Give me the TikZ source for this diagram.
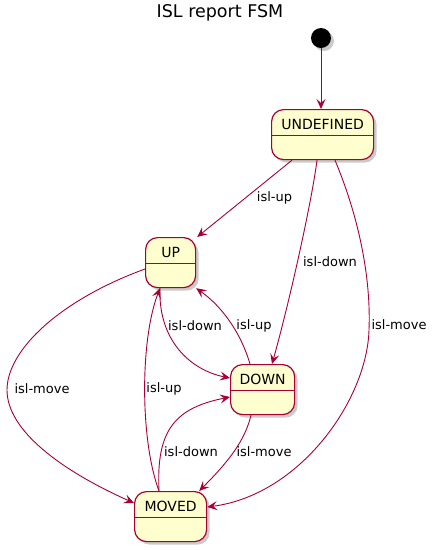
\documentclass[tikz,border=0pt]{standalone}
\usepackage{fontspec}
\setmainfont{DejaVu Sans}
\usetikzlibrary{arrows.meta,shadows,positioning}
\definecolor{umlborder}{RGB}{168,0,54}
\definecolor{umlfill}{RGB}{254,254,206}
\tikzset{
  statebox/.style={draw=umlborder, fill=umlfill, line width=1.2pt, rounded corners=12pt,
    minimum height=50pt, inner ysep=0pt, inner xsep=4pt, text height=19.5pt, text depth=30.5pt,
    font=\fontsize{14}{16}\selectfont, anchor=north west,
    drop shadow={shadow xshift=3pt, shadow yshift=-3pt, fill=black!45, opacity=0.45}},
  edge/.style={draw=umlborder, line width=0.9pt, -{Stealth[length=10pt,width=9pt,inset=4pt]}},
  elabel/.style={font=\fontsize{13}{15}\selectfont, inner sep=0pt},
}
\newcommand{\sep}[1]{\draw[umlborder, line width=1.2pt] ([yshift=-26.5pt]#1.north west) -- ([yshift=-26.5pt]#1.north east);}
\begin{document}
\begin{tikzpicture}[x=1pt, y=-1pt]
\useasboundingbox (0,0) rectangle (436,550);
\node[font=\fontsize{17.5}{20}\selectfont, anchor=base, inner sep=0pt] (title) at (220,17.5) {ISL report FSM};
\node[circle, fill=black, minimum size=20pt, inner sep=0pt,
  drop shadow={shadow xshift=3pt, shadow yshift=-3pt, fill=black!45, opacity=0.45}] (start) at (321,38) {};
\node[statebox, minimum width=102pt] (UNDEFINED) at (271,109) {UNDEFINED};
\node[statebox, minimum width=50pt] (UP) at (145,237) {UP};
\node[statebox, minimum width=64pt] (DOWN) at (230,364) {DOWN};
\node[statebox, minimum width=72pt] (MOVED) at (134,491) {MOVED};
\sep{UNDEFINED}
\sep{UP}
\sep{DOWN}
\sep{MOVED}
% edges
\draw[edge] (start.south) -- (start.south |- UNDEFINED.north);
\draw[edge] ([xshift=21pt]UNDEFINED.south west) -- ([xshift=1pt]UP.north east);
\draw[edge] ([xshift=46pt]UNDEFINED.south west) .. controls (312,200) and (290,300) .. ([xshift=42pt]DOWN.north west);
\draw[edge] ([xshift=64pt]UNDEFINED.south west) .. controls (360,220) and (371,280) .. (369,330)
   .. controls (367,400) and (300,495) .. ([yshift=-16pt]MOVED.north east);
\draw[edge] ([yshift=-32pt]UP.north west) .. controls (60,300) and (7,350) .. (7,390)
   .. controls (7,430) and (60,470) .. ([yshift=-12pt]MOVED.north west);
\draw[edge] ([xshift=15pt]UP.south west) .. controls (158,340) and (190,370) .. ([yshift=-14pt]DOWN.north west);
\draw[edge] ([xshift=20pt]DOWN.north west) .. controls (240,330) and (220,305) .. (UP.south east);
\draw[edge] ([xshift=25pt]MOVED.north west) .. controls (140,440) and (140,340) .. ([xshift=15pt]UP.south west);
\draw[edge] ([xshift=25pt]MOVED.north west) .. controls (156,430) and (175,408) .. ([yshift=-33pt]DOWN.north west);
\draw[edge] ([xshift=21pt]DOWN.south west) .. controls (245,440) and (230,460) .. ([xshift=-8pt]MOVED.north east);
% labels
\node[elabel] (l1) at (274.5,198) {isl-up};
\node[elabel] (l2) at (330,262) {isl-down};
\node[elabel] (l3) at (399,325) {isl-move};
\node[elabel] (l4) at (42,389) {isl-move};
\node[elabel] (l5) at (195,326) {isl-down};
\node[elabel] (l6) at (254,326) {isl-up};
\node[elabel] (l7) at (164,389) {isl-up};
\node[elabel] (l8) at (191,452) {isl-down};
\node[elabel] (l9) at (264,452) {isl-move};
\end{tikzpicture}
\end{document}
